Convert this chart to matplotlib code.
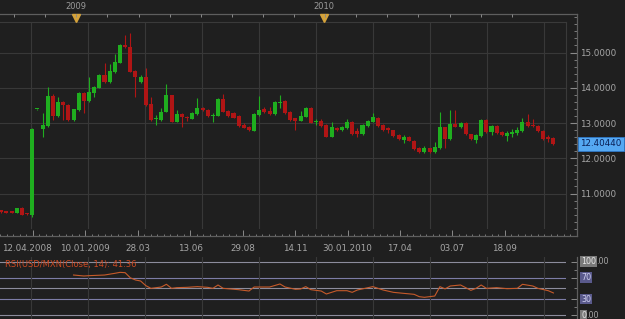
import matplotlib
matplotlib.use('Agg')
import matplotlib.pyplot as plt
import matplotlib.transforms as mtransforms
import numpy as np

# ---------------- data ----------------
opens = [10.52, 10.49, 10.47, 10.46, 10.60, 10.43, 10.39, 13.39, 12.82, 12.92,
         13.77, 13.20, 13.60, 13.51, 13.08, 13.37, 13.86, 13.63, 13.86, 14.00,
         14.36, 14.15, 14.44, 14.71, 15.21, 15.16, 14.48, 14.16, 14.31, 13.54,
         13.10, 13.09, 13.32, 13.79, 13.04, 13.25, 13.18, 13.12, 13.25, 13.43,
         13.37, 13.21, 13.21, 13.68, 13.34, 13.28, 13.20, 12.95, 12.89, 12.78,
         13.23, 13.39, 13.35, 13.25, 13.57, 13.63, 13.32, 13.13, 13.07, 13.18,
         13.42, 13.02, 13.07, 12.94, 12.61, 12.87, 12.80, 12.85, 13.04, 12.76,
         12.68, 12.92, 13.04, 13.15, 12.94, 12.85, 12.79, 12.66, 12.53, 12.60,
         12.50, 12.30, 12.17, 12.28, 12.17, 12.28, 12.88, 12.54, 12.96, 12.89,
         13.01, 12.68, 12.52, 12.63, 13.09, 12.75, 12.92, 12.74, 12.64, 12.68,
         12.72, 12.77, 13.02, 12.95, 12.92, 12.77, 12.60, 12.57]
highs = [10.54, 10.50, 10.48, 10.60, 10.62, 10.44, 12.85, 13.41, 13.29, 14.03,
         13.81, 13.75, 13.63, 13.53, 13.41, 13.88, 13.88, 14.31, 14.05, 14.38,
         14.70, 14.68, 14.96, 15.23, 15.50, 15.56, 14.50, 14.36, 14.55, 13.75,
         13.23, 13.42, 14.11, 13.80, 13.38, 13.27, 13.20, 13.31, 13.70, 13.45,
         13.39, 13.29, 13.70, 13.82, 13.36, 13.30, 13.22, 13.00, 12.91, 13.27,
         13.77, 13.45, 13.45, 13.62, 13.80, 13.65, 13.34, 13.15, 13.33, 13.44,
         13.44, 13.10, 13.10, 12.96, 13.04, 12.90, 12.91, 13.10, 13.06, 12.86,
         12.96, 13.09, 13.28, 13.17, 12.96, 12.90, 12.81, 12.68, 12.66, 12.62,
         12.52, 12.32, 12.36, 12.30, 12.45, 13.30, 12.90, 13.36, 13.37, 13.03,
         13.03, 12.70, 12.68, 13.11, 13.12, 12.94, 12.94, 12.76, 12.77, 12.83,
         12.88, 13.15, 13.25, 13.11, 12.94, 12.79, 12.66, 12.59]
lows = [10.45, 10.45, 10.45, 10.45, 10.38, 10.40, 10.33, 13.38, 12.61, 12.90,
        13.09, 13.18, 13.08, 13.06, 13.06, 13.35, 13.29, 13.60, 13.75, 13.98,
        14.14, 14.13, 14.42, 14.69, 15.14, 14.44, 13.75, 14.14, 13.48, 13.05,
        12.94, 13.05, 13.30, 13.02, 13.02, 12.90, 13.05, 13.10, 13.23, 13.33,
        13.18, 13.04, 13.19, 13.30, 13.18, 13.13, 12.88, 12.85, 12.78, 12.76,
        13.21, 13.28, 13.23, 13.23, 13.43, 13.26, 13.07, 12.80, 13.05, 13.16,
        12.99, 12.94, 12.90, 12.59, 12.59, 12.78, 12.78, 12.83, 12.67, 12.61,
        12.66, 12.90, 13.02, 12.89, 12.77, 12.72, 12.61, 12.52, 12.42, 12.48,
        12.24, 12.15, 12.15, 12.15, 12.15, 12.26, 12.30, 12.52, 12.88, 12.87,
        12.66, 12.52, 12.42, 12.61, 12.73, 12.66, 12.69, 12.64, 12.49, 12.61,
        12.66, 12.75, 12.90, 12.89, 12.75, 12.52, 12.47, 12.38]
closes = [10.47, 10.46, 10.46, 10.59, 10.39, 10.41, 12.82, 13.40, 12.94, 13.77,
          13.20, 13.60, 13.51, 13.08, 13.39, 13.86, 13.63, 13.89, 14.03, 14.36,
          14.16, 14.48, 14.74, 15.21, 15.16, 14.46, 14.31, 14.31, 13.51, 13.09,
          13.12, 13.32, 13.79, 13.04, 13.26, 13.16, 13.13, 13.27, 13.43, 13.36,
          13.20, 13.23, 13.68, 13.32, 13.20, 13.15, 12.92, 12.87, 12.80, 13.25,
          13.37, 13.30, 13.25, 13.60, 13.59, 13.28, 13.09, 13.07, 13.20, 13.42,
          13.01, 13.04, 12.92, 12.61, 12.88, 12.80, 12.89, 13.04, 12.69, 12.70,
          12.94, 13.07, 13.18, 12.91, 12.79, 12.80, 12.63, 12.54, 12.60, 12.50,
          12.26, 12.17, 12.30, 12.17, 12.33, 12.88, 12.55, 12.96, 12.90, 13.01,
          12.68, 12.54, 12.66, 13.09, 12.75, 12.92, 12.71, 12.66, 12.71, 12.75,
          12.80, 13.04, 12.92, 12.91, 12.77, 12.54, 12.56, 12.4044]

date_labels = ["12.04.2008", "10.01.2009", "28.03", "13.06", "29.08", "14.11",
               "30.01.2010", "17.04", "03.07", "18.09"]
year_labels = ["2009", "2010"]
year_idx = [14.9, 67.0]
price_levels = [11, 12, 13, 14, 15]
last_price = 12.4044

rsi_idx = [14, 16, 17, 20, 22, 23, 24, 25, 26, 27, 28, 29, 31, 32, 33, 34, 36, 38,
           40, 41, 42, 43, 46, 48, 49, 52, 54, 55, 57, 58, 59, 60, 62, 63, 65, 67,
           68, 69, 72, 74, 76, 78, 80, 81, 82, 84, 85, 86, 87, 89, 91, 92, 93, 94,
           96, 98, 100, 101, 103, 104, 106, 107]
rsi_val = [75.0, 73.2, 73.8, 75.0, 78.2, 80.0, 79.4, 69.8, 65.7, 63.8, 55.1, 50.0,
           52.5, 57.6, 50.0, 51.3, 51.9, 53.2, 51.9, 50.0, 56.3, 50.0, 47.5, 45.0,
           52.5, 52.5, 58.2, 52.5, 48.2, 48.8, 53.2, 47.5, 45.0, 39.4, 45.6, 45.6,
           42.5, 46.9, 53.2, 46.9, 42.5, 40.6, 38.8, 34.4, 33.2, 35.6, 53.2, 49.0,
           54.4, 56.3, 46.3, 50.0, 56.3, 50.0, 51.3, 49.4, 50.0, 57.6, 54.4, 50.0,
           45.6, 41.36]
rsi_levels = [100, 70, 50, 30, 0]
rsi_title = "RSI(USD/MXN(Close, 14): 41.36"

# ---------------- layout helpers ----------------
W, H = 625, 319
BG = '#1f1f1f'
GRID = '#383838'
FRAME = '#5e5e5e'
TXT = '#a6a6a6'
GREEN = '#1fae1f'
RED = '#b01515'

X0, DX = 1.3, 5.16          # pixel of candle 0, spacing
def px2i(px):
    return (px - X0) / DX
def py2p(py):
    return 11 + (193.5 - py) / 35.25
def py2r(py):
    return (315.0 - py) / 0.533
def rect(x0, y0, x1, y1):
    return [x0 / W, 1 - y1 / H, (x1 - x0) / W, (y1 - y0) / H]

grid_pos = [px2i(31.0) + 11.05 * k for k in range(len(date_labels))]
top_pos = [px2i(10.8) + 6.55 * k for k in range(17)]
minor_pos = [grid_pos[0] + 11.05 / 8 * k for k in range(-5, 8 * len(date_labels) + 4)]

plt.rcParams['font.family'] = ['DejaVu Sans']
fig = plt.figure(figsize=(W / 100, H / 100), dpi=100, facecolor=BG)

# ---------------- main panel ----------------
ax = fig.add_axes(rect(0, 22, 566, 229), facecolor=BG)
ax.set_xlim(px2i(0), px2i(566))
ax.set_ylim(py2p(229), py2p(22))
ax.set_xticks(grid_pos)
ax.set_yticks(price_levels)
ax.grid(True, color=GRID, lw=0.8)
ax.tick_params(length=0, labelbottom=False, labelleft=False)
for s in ['left', 'bottom']:
    ax.spines[s].set_visible(False)
for s in ['top', 'right']:
    ax.spines[s].set_color('#3a3a3a')
    ax.spines[s].set_linewidth(0.8)
ax.set_axisbelow(True)

o = np.array(opens); c = np.array(closes)
x = np.arange(len(c))
up = c >= o
cols = np.where(up, GREEN, RED)
ax.vlines(x, lows, highs, colors=cols, lw=0.8, zorder=2)
ax.bar(x, np.maximum(np.abs(c - o), 0.03), bottom=np.minimum(o, c), width=0.78,
       color=cols, edgecolor=cols, linewidth=0, zorder=3)

# ---------------- frame / axes ----------------
axf = fig.add_axes(rect(0, 14, 577, 236))
axf.patch.set_visible(False)
axf.set_xlim(px2i(0), px2i(577))
axf.set_ylim(py2p(236), py2p(14))
axf.spines['left'].set_visible(False)
for s in ['top', 'right', 'bottom']:
    axf.spines[s].set_color(FRAME)
    axf.spines[s].set_linewidth(0.9)
axf.yaxis.tick_right()
axf.set_yticks(price_levels)
axf.set_yticklabels([f"{v:.4f}" for v in price_levels])
axf.set_yticks(np.arange(10.0, 16.01, 0.2), minor=True)
axf.tick_params(axis='y', which='major', direction='in', length=5, width=0.8,
                color='#8a8a8a', labelsize=6.3, labelcolor=TXT, pad=2.3)
axf.tick_params(axis='y', which='minor', direction='in', length=2.5, width=0.6,
                color='#8a8a8a')
axf.set_xticks(grid_pos)
axf.set_xticklabels(date_labels)
axf.set_xticks(minor_pos, minor=True)
axf.tick_params(axis='x', which='major', direction='in', length=4.3, width=0.7,
                color='#8a8a8a', labelsize=6.3, labelcolor=TXT, pad=5.5)
axf.tick_params(axis='x', which='minor', direction='in', length=1.6, width=0.6,
                color='#8a8a8a')
# first date label is pushed right against the left edge
first = axf.get_xticklabels()[0]
first.set_transform(first.get_transform() +
                    mtransforms.ScaledTranslation(-6 / 100, 0, fig.dpi_scale_trans))

axt = axf.twiny()
axt.set_xlim(axf.get_xlim())
axt.set_xticks(top_pos)
axt.tick_params(axis='x', direction='in', length=2.4, width=0.7, color='#8a8a8a',
                labeltop=False)
for s in axt.spines.values():
    s.set_visible(False)

tr = axf.get_xaxis_transform()
axf.plot(year_idx, [(236 - 17.6) / 222] * len(year_idx), marker='v', ls='none',
         ms=5.5, color='#d4a23a', mec='#d4a23a', transform=tr, clip_on=False, zorder=5)
for p, lab in zip(year_idx, year_labels):
    axf.text(p, 1 + (14 - 6.7) / 222, lab, transform=tr, ha='center', va='center',
             fontsize=6, color='#9a9a9a')

btr = mtransforms.blended_transform_factory(axf.transAxes, axf.transData)
axf.text(1 + 3 / 577, last_price, f"{last_price:.5f}", transform=btr, ha='left',
         va='center', fontsize=6.3, color='#0a1f55', clip_on=False,
         bbox=dict(boxstyle='square,pad=0.25', fc='#55a8f2', ec='#2f78c8', lw=0.6))

# ---------------- RSI panel ----------------
axr = fig.add_axes(rect(0, 257, 566, 319), facecolor=BG)
axr.set_xlim(px2i(0), px2i(566))
axr.set_ylim(py2r(319), py2r(257))
axr.set_xticks(grid_pos)
axr.set_yticks([])
axr.grid(True, axis='x', color=GRID, lw=0.8)
axr.tick_params(length=0, labelbottom=False, labelleft=False)
for s in axr.spines.values():
    s.set_visible(False)
for lv in rsi_levels:
    colr = '#8c8c9c' if lv in (100, 50, 0) else '#7c7ca6'
    axr.axhline(lv, color=colr, lw=0.8, zorder=1)
axr.plot(rsi_idx, rsi_val, color='#c65a2a', lw=0.8, zorder=3)

axrf = fig.add_axes(rect(0, 257, 577, 319))
axrf.patch.set_visible(False)
axrf.set_xlim(px2i(0), px2i(577))
axrf.set_ylim(py2r(319), py2r(257))
for s in ['left', 'top', 'bottom']:
    axrf.spines[s].set_visible(False)
axrf.spines['right'].set_color(FRAME)
axrf.spines['right'].set_linewidth(0.9)
axrf.set_xticks([])
axrf.yaxis.tick_right()
axrf.set_yticks([0, 30, 70, 100])
axrf.set_yticks([15, 50, 85], minor=True)
axrf.tick_params(axis='y', which='major', direction='in', length=4, width=0.7,
                 color='#8a8a8a', labelright=False)
axrf.tick_params(axis='y', which='minor', direction='in', length=2, width=0.6,
                 color='#8a8a8a')

rbtr = mtransforms.blended_transform_factory(axrf.transAxes, axrf.transData)
lab_x = 1 + 4 / 577
for lv in [100, 70, 30, 0]:
    main = f"{lv:d}"
    if lv in (100, 0):
        axrf.text(lab_x, lv, main, transform=rbtr, ha='left', va='center',
                  fontsize=5.8, color='#e8e8e8', clip_on=False,
                  bbox=dict(boxstyle='square,pad=0.12', fc='#7a7a7a', ec='none'))
        axrf.text(lab_x + len(main) * 5.2 / 577, lv, ".00", transform=rbtr, ha='left',
                  va='center', fontsize=5.8, color=TXT, clip_on=False)
    else:
        axrf.text(lab_x, lv, main, transform=rbtr, ha='left', va='center',
                  fontsize=5.8, color='#d0d0f0', clip_on=False,
                  bbox=dict(boxstyle='square,pad=0.12', fc='#5a5a8c', ec='none'))

fig.text(5 / W, 1 - 264 / H, rsi_title, fontsize=6, color='#cc4a22', ha='left',
         va='center')

fig.savefig('out.png', dpi=100, facecolor=BG)
